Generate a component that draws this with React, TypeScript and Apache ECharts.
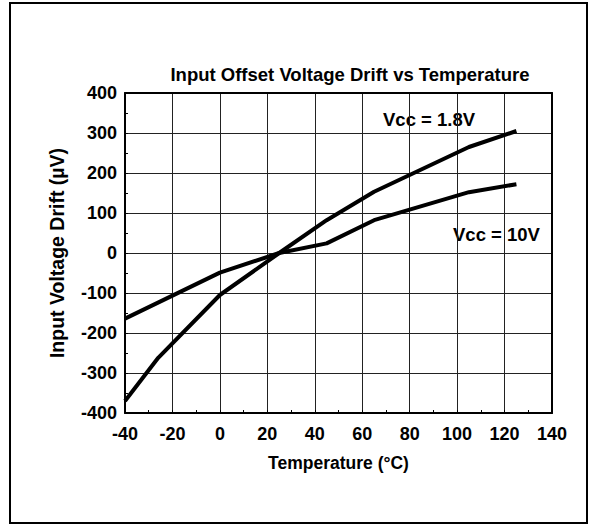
import React, { useEffect, useRef } from "react";
import * as echarts from "echarts";

const temps18 = [-40, -26, 0, 25, 45, 65, 105, 125];
const drift18 = [-370, -262, -105, 0, 82, 153, 265, 305];
const temps10 = [-40, 0, 25, 45, 65, 105, 125];
const drift10 = [-164, -49, 0, 24, 82, 152, 172];

const titleText = "Input Offset Voltage Drift vs Temperature";
const xName = "Temperature (°C)";
const yName = "Input Voltage Drift (µV)";
const label18 = "Vcc = 1.8V";
const label10 = "Vcc = 10V";

const FONT = "'Liberation Sans', Arial, sans-serif";

export default function App() {
  const ref = useRef<HTMLDivElement>(null);
  useEffect(() => {
    if (!ref.current) return;
    const chart = echarts.init(ref.current, null, { renderer: "svg" });
    const txt = { fontFamily: FONT, fontWeight: "bold" as const, color: "#000" };
    const pairs = (xs: number[], ys: number[]) => xs.map((x, i) => [x, ys[i]]);
    chart.setOption({
      animation: false,
      backgroundColor: "#fff",
      title: {
        text: titleText,
        left: 345,
        top: 60,
        textAlign: "center",
        textStyle: { ...txt, fontSize: 18.5 },
      },
      grid: { left: 125, top: 93, right: 42, bottom: 116 },
      xAxis: [
        {
          type: "value",
          min: -40,
          max: 140,
          interval: 20,
          name: xName,
          nameLocation: "middle",
          nameGap: 41,
          nameTextStyle: { ...txt, fontSize: 17.5 },
          axisLine: { show: true, onZero: false, lineStyle: { color: "#000", width: 2 } },
          axisTick: { show: true, inside: true, length: 3, lineStyle: { color: "#000" } },
          minorTick: { show: true, splitNumber: 2, length: 3, lineStyle: { color: "#000" } },
          axisLabel: { ...txt, fontSize: 18, margin: 12 },
          splitLine: { show: true, lineStyle: { color: "#222", width: 1 } },
        },
        {
          type: "value",
          position: "top",
          min: -40,
          max: 140,
          interval: 20,
          axisLine: { show: true, onZero: false, lineStyle: { color: "#000", width: 2 } },
          axisTick: { show: false },
          axisLabel: { show: false },
          splitLine: { show: false },
        },
      ],
      yAxis: [
        {
          type: "value",
          min: -400,
          max: 400,
          interval: 100,
          name: yName,
          nameLocation: "middle",
          nameGap: 58,
          nameTextStyle: { ...txt, fontSize: 19.5 },
          axisLine: { show: true, onZero: false, lineStyle: { color: "#000", width: 2 } },
          axisTick: { show: true, inside: true, length: 3, lineStyle: { color: "#000" } },
          minorTick: { show: true, splitNumber: 2, length: 3, lineStyle: { color: "#000" } },
          axisLabel: { ...txt, fontSize: 18, margin: 8 },
          splitLine: { show: true, lineStyle: { color: "#222", width: 1 } },
        },
        {
          type: "value",
          position: "right",
          min: -400,
          max: 400,
          interval: 100,
          axisLine: { show: true, onZero: false, lineStyle: { color: "#000", width: 2 } },
          axisTick: { show: false },
          axisLabel: { show: false },
          splitLine: { show: false },
        },
      ],
      series: [
        {
          name: label18,
          type: "line",
          data: pairs(temps18, drift18),
          showSymbol: false,
          symbol: "none",
          lineStyle: { color: "#000", width: 4 },
        },
        {
          name: label10,
          type: "line",
          data: pairs(temps10, drift10),
          showSymbol: false,
          symbol: "none",
          lineStyle: { color: "#000", width: 4 },
        },
      ],
      graphic: [
        {
          type: "rect",
          shape: { x: 10, y: 3, width: 577, height: 520 },
          style: { fill: "none", stroke: "#000", lineWidth: 2 },
          silent: true,
        },
        {
          type: "text",
          x: 383,
          y: 119,
          style: { text: label18, font: `bold 18.5px ${FONT}`, fill: "#000", verticalAlign: "middle", align: "left" },
        },
        {
          type: "text",
          x: 453,
          y: 234,
          style: { text: label10, font: `bold 18.5px ${FONT}`, fill: "#000", verticalAlign: "middle", align: "left" },
        },
      ],
    });
    return () => chart.dispose();
  }, []);
  return (
    <div
      ref={ref}
      style={{ position: "fixed", left: 0, top: 0, width: 594, height: 529 }}
    />
  );
}
